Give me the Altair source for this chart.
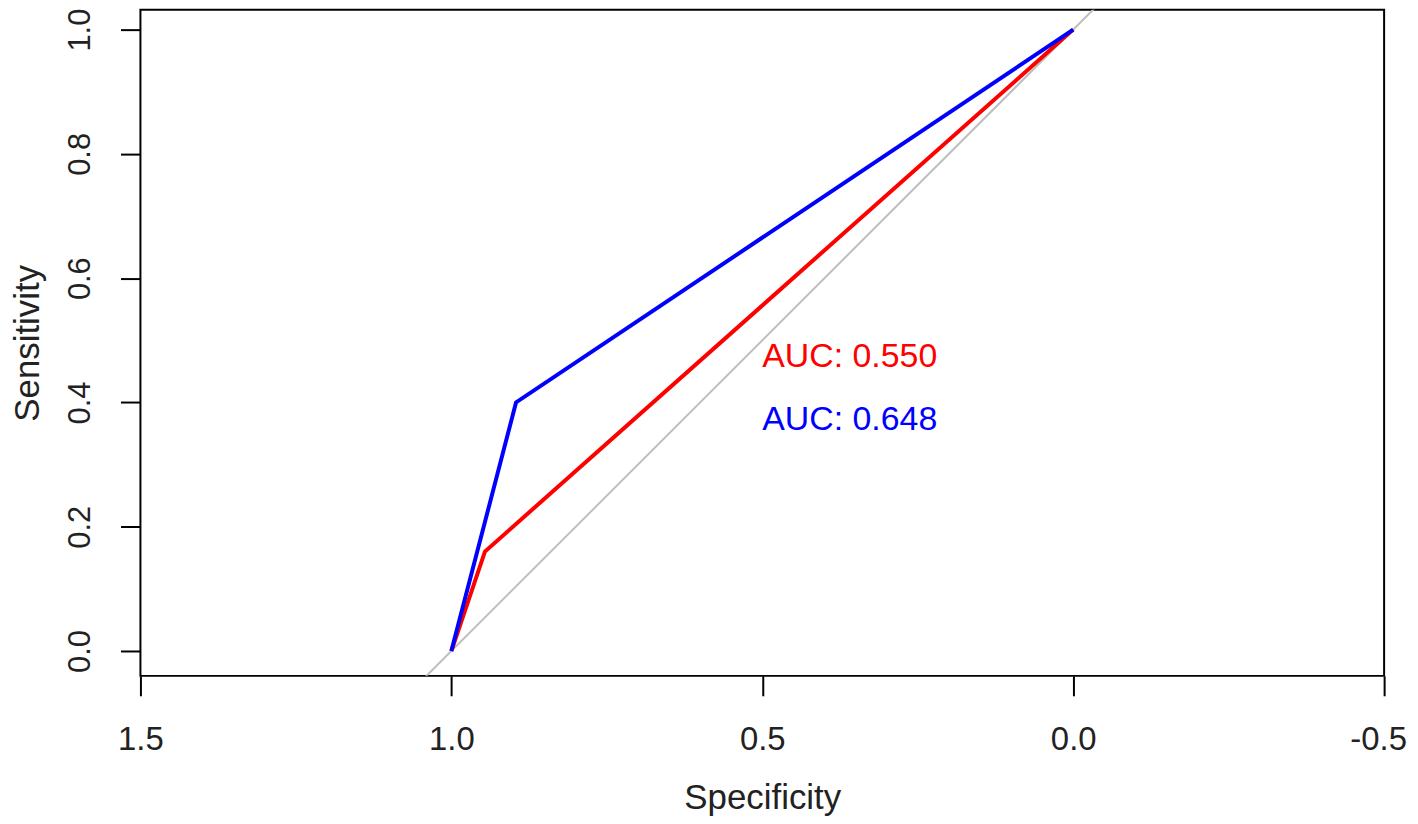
import altair as alt
import pandas as pd

# ROC curve 1 (red)
red_spec = [1.0, 0.946, 0.0]
red_sens = [0.0, 0.16, 1.0]
# ROC curve 2 (blue)
blue_spec = [1.0, 0.896, 0.0]
blue_sens = [0.0, 0.40, 1.0]
# chance diagonal (abline)
diag_spec = [1.2, -0.2]
diag_sens = [-0.2, 1.2]
# AUC annotations
auc_text = ["AUC: 0.550", "AUC: 0.648"]
auc_series = ["red", "blue"]
auc_x = [0.5, 0.5]
auc_y = [0.457, 0.356]

x_ticks = [1.5, 1.0, 0.5, 0.0, -0.5]
y_ticks = [0.0, 0.2, 0.4, 0.6, 0.8, 1.0]

FONT = "Liberation Sans"

rows = []
for i, (s, t) in enumerate(zip(red_spec, red_sens)):
    rows.append({"series": "red", "spec": s, "sens": t, "ord": i})
for i, (s, t) in enumerate(zip(blue_spec, blue_sens)):
    rows.append({"series": "blue", "spec": s, "sens": t, "ord": i})
roc = pd.DataFrame(rows)
diag = pd.DataFrame({"spec": diag_spec, "sens": diag_sens})
txt = pd.DataFrame({"label": auc_text, "series": auc_series, "spec": auc_x, "sens": auc_y})

xscale = alt.Scale(domain=[-0.5, 1.5], reverse=True, nice=False, zero=False)
yscale = alt.Scale(domain=[-0.04, 1.032], nice=False, zero=False)
cscale = alt.Scale(domain=["red", "blue"], range=["#ff0000", "#0000ff"])

xaxis = alt.Axis(
    title="Specificity", values=x_ticks,
    labelExpr="replace(format(datum.value, '.1f'), '\u2212', '-')",
    domain=False, grid=False, tickSize=20, tickWidth=2, tickColor="black",
    labelFontSize=33, labelFont=FONT, labelColor="#222", labelPadding=28,
    labelOffset={"condition": {"test": "datum.value < 0", "value": -6}, "value": 0},
    labelBound=False, labelFlush=False, labelOverlap=False,
    titleFontSize=35, titleFont=FONT, titleColor="#222", titleFontWeight="normal",
    titlePadding=24,
)
yaxis = alt.Axis(
    title="Sensitivity", values=y_ticks, format=".1f",
    domain=False, grid=False, tickSize=20, tickWidth=2, tickColor="black",
    labelFontSize=31, labelFont=FONT, labelColor="#222", labelPadding=24,
    labelAngle=270, labelAlign="center", labelBaseline="bottom",
    labelBound=False, labelFlush=False, labelOverlap=False,
    titleFontSize=35, titleFont=FONT, titleColor="#222", titleFontWeight="normal",
    titlePadding=19,
)

base_x = alt.X("spec:Q", scale=xscale, axis=xaxis)
base_y = alt.Y("sens:Q", scale=yscale, axis=yaxis)

diag_layer = alt.Chart(diag).mark_line(color="#bebebe", strokeWidth=2, clip=True).encode(
    x=base_x, y=base_y
)
roc_layer = alt.Chart(roc).mark_line(strokeWidth=4, clip=True).encode(
    x=base_x, y=base_y,
    color=alt.Color("series:N", scale=cscale, legend=None),
    detail="series:N",
    order="ord:Q",
)
text_layer = alt.Chart(txt).mark_text(
    align="left", baseline="alphabetic", font=FONT, fontSize=34
).encode(
    x=base_x, y=base_y,
    text="label:N",
    color=alt.Color("series:N", scale=cscale, legend=None),
)

chart = alt.layer(diag_layer, roc_layer, text_layer).properties(
    width=1249, height=669,
    autosize=alt.AutoSizeParams(type="none"),
    padding={"left": 133, "top": 0, "right": 26, "bottom": 140},
).configure(
    background="white",
    view=alt.ViewConfig(stroke="black", strokeWidth=2),
)

chart.save("out.html", embed_options={"renderer": "svg", "actions": False})
